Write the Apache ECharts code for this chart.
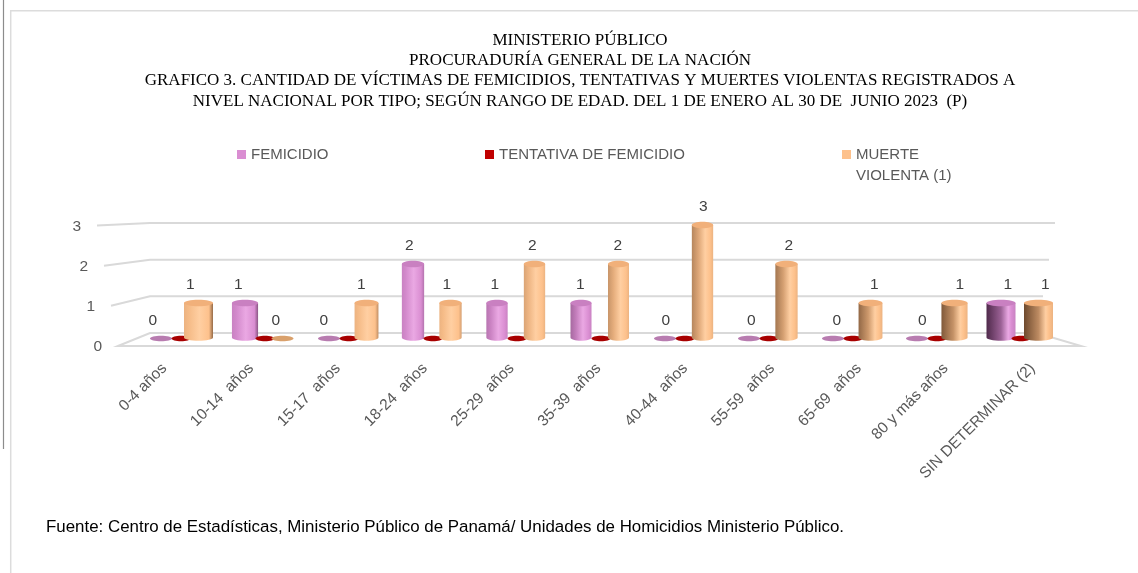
<!DOCTYPE html>
<html><head><meta charset="utf-8">
<script src="https://cdn.jsdelivr.net/npm/echarts@6/dist/echarts.min.js"></script>
<style>html,body{margin:0;padding:0;background:#fff}#c{width:1138px;height:573px}</style>
</head><body><div id="c"></div>
<script>
// ---- data ----
const categories = ['0-4 años','10-14  años','15-17  años','18-24  años','25-29  años','35-39  años','40-44  años','55-59  años','65-69  años','80 y más años','SIN DETERMINAR (2)'];
const femicidio = [0,1,0,2,1,1,0,0,0,0,1];
const tentativa = [0,0,0,0,0,0,0,0,0,0,0];
const muerteViolenta = [1,0,1,1,2,2,3,2,1,1,1];
const yTicks = [0,1,2,3];
const seriesNames = ['FEMICIDIO','TENTATIVA DE FEMICIDIO','MUERTE VIOLENTA (1)'];
const titleLines = ['MINISTERIO PÚBLICO','PROCURADURÍA GENERAL DE LA NACIÓN','GRAFICO 3. CANTIDAD DE VÍCTIMAS DE FEMICIDIOS, TENTATIVAS Y MUERTES VIOLENTAS REGISTRADOS A','NIVEL NACIONAL POR TIPO; SEGÚN RANGO DE EDAD. DEL 1 DE ENERO AL 30 DE  JUNIO 2023  (P)'];
const sourceText = 'Fuente: Centro de Estadísticas, Ministerio Público de Panamá/ Unidades de Homicidios Ministerio Público.';

// ---- styles ----
const SANS = '"Liberation Sans", Arial, sans-serif';
const SERIF = '"Liberation Serif", "Times New Roman", serif';
const palette = [
  {base:'#da8ed2', light:'#eaa8e3', dark:'#4f2a4b', top:'#c980c1', zero:'#b87cb0'},
  {base:'#c00000', light:'#d01010', dark:'#600000', top:'#a80000', zero:'#a80000'},
  {base:'#fdc18c', light:'#ffcfa2', dark:'#6e4a2e', top:'#f1b07a', zero:'#d9a06b'}
];
function hex2rgb(h){h=h.replace('#','');return [parseInt(h.substr(0,2),16),parseInt(h.substr(2,2),16),parseInt(h.substr(4,2),16)];}
function mix(a,b,t){const A=hex2rgb(a),B=hex2rgb(b);return 'rgb('+A.map((x,i)=>Math.round(x+(B[i]-x)*t)).join(',')+')';}
function clamp(x){return Math.max(0,Math.min(1,x));}
function ellipsePts(cx,cy,rx,ry){const p=[];for(let i=0;i<32;i++){const a=2*Math.PI*i/32;p.push([cx+rx*Math.cos(a),cy+ry*Math.sin(a)]);}return p;}

function cylRender(si){
  return function(params, api){
    const k = api.value(0), v = api.value(1);
    const p0 = api.coord([k,0]), p1 = api.coord([k,v]);
    const u = api.size([1,0])[0]/84;
    const off = [-20,0,17.5][si]*u;
    const t = (k-5)/5;
    const w = (21+8*t*t)*u;
    const cx = p0[0]+off;
    const ry = 3.3;
    const c = palette[si];
    const ch = [];
    let topY;
    if (v === 0) {
      const ew = (si===1?19:22)*u;
      topY = p0[1]-3.5;
      ch.push({type:'polygon', shape:{points:ellipsePts(cx,topY,ew/2,2.7)}, style:{fill:c.zero}});
    } else {
      const yb = p0[1]-4.5, yt = p1[1];
      topY = yt;
      const pts=[[cx-w/2,yt]];
      for(let i=0;i<=16;i++){const a=Math.PI-Math.PI*i/16;pts.push([cx+w/2*Math.cos(a), yb+ry*Math.sin(a)]);}
      pts.push([cx+w/2,yt]);
      const dl = 0.12+0.88*clamp((k-3)/7);
      const dr = 0.12+0.6*clamp((4-k)/4);
      const grad = new echarts.graphic.LinearGradient(0,0,1,0,[
        {offset:0,color:mix(c.base,c.dark,dl)},
        {offset:0.12+0.38*dl,color:mix(c.base,c.dark,dl*0.45)},
        {offset:0.5+0.25*dl,color:c.light},
        {offset:0.86,color:c.base},
        {offset:1,color:mix(c.base,c.dark,dr)}
      ]);
      ch.push({type:'polygon', shape:{points:pts}, style:{fill:grad}});
      ch.push({type:'polygon', shape:{points:ellipsePts(cx,yt,w/2,ry)}, style:{fill:c.top}});
    }
    if (si !== 1) {
      ch.push({type:'text', style:{text:String(v), x:cx+(k-5.5)*1.5, y:topY-18, align:'center', verticalAlign:'middle', fontSize:15.5, fontFamily:SANS, fill:'#404040'}});
    }
    return {type:'group', children:ch};
  };
}

function wallRender(params, api){
  const v = api.value(1);
  const bl = api.coord([0,v]);
  const br0 = api.coord([1,v]);
  const br = [br0[0]+6*v, br0[1]];
  const fl = [bl[0]-32-7*v, bl[1]+13-3.5*v];
  const ls = {fill:'none', stroke:'#d9d9d9', lineWidth:2};
  const ch = [];
  if (v === 0) ch.push({type:'polygon', shape:{points:[fl,bl,br,[br[0]+44,br[1]+13]]}, style:ls});
  else ch.push({type:'polyline', shape:{points:[fl,bl,br]}, style:ls});
  ch.push({type:'text', style:{text:String(v), x:fl[0]-16, y:fl[1]+1, align:'right', verticalAlign:'middle', fontSize:15.5, fontFamily:SANS, fill:'#595959'}});
  return {type:'group', children:ch};
}

const seriesData = [femicidio, tentativa, muerteViolenta];
const chart = echarts.init(document.getElementById('c'), null, {renderer:'canvas'});
const hidden = {show:false};
const legendText = {fontSize:15, fontFamily:SANS, color:'#595959', lineHeight:17};
chart.setOption({
  backgroundColor:'#fff',
  animation:false,
  grid:[
    {left:139, right:75, top:225, height:117, outerBoundsMode:'none'},
    {left:150, right:101, top:223, height:110, outerBoundsMode:'none'},
    {left:121, right:62, top:340, height:12, outerBoundsMode:'none'}
  ],
  xAxis:[
    {type:'category', gridIndex:0, data:categories, axisLine:hidden, axisTick:hidden, axisLabel:hidden, splitLine:hidden},
    {type:'value', gridIndex:1, min:0, max:1, axisLine:hidden, axisTick:hidden, axisLabel:hidden, splitLine:hidden},
    {type:'category', gridIndex:2, data:categories, position:'bottom', axisLine:hidden, axisTick:hidden, splitLine:hidden,
     axisLabel:{show:true, rotate:45, interval:0, margin:14, fontSize:15.5, fontFamily:SANS, color:'#595959'}}
  ],
  yAxis:[
    {type:'value', gridIndex:0, min:0, max:3, interval:1, axisLine:hidden, axisTick:hidden, axisLabel:hidden, splitLine:hidden},
    {type:'value', gridIndex:1, min:0, max:3, interval:1, axisLine:hidden, axisTick:hidden, axisLabel:hidden, splitLine:hidden},
    {type:'value', gridIndex:2, min:0, max:1, axisLine:hidden, axisTick:hidden, axisLabel:hidden, splitLine:hidden}
  ],
  legend:[
    {data:[seriesNames[0]], left:237, top:146, padding:0, icon:'rect', itemWidth:9, itemHeight:9, selectedMode:false, textStyle:legendText},
    {data:[seriesNames[1]], left:485, top:146, padding:0, icon:'rect', itemWidth:9, itemHeight:9, selectedMode:false, textStyle:legendText},
    {data:[seriesNames[2]], left:842, top:144, padding:0, icon:'path://M0,0L9,0L9,9L0,9Z M0,31L9,31', itemWidth:9, itemHeight:31, selectedMode:false,
     formatter:function(){return 'MUERTE\nVIOLENTA (1)';},
     textStyle:{fontSize:15, fontFamily:SANS, color:'#595959', lineHeight:21.5}}
  ],
  graphic:[
    {type:'line', shape:{x1:3.5,y1:0,x2:3.5,y2:449}, style:{stroke:'#8c8c8c', lineWidth:1.2}, silent:true},
    {type:'line', shape:{x1:10,y1:10.7,x2:1138,y2:10.7}, style:{stroke:'#dcdcdc', lineWidth:1.5}, silent:true},
    {type:'line', shape:{x1:10.7,y1:10,x2:10.7,y2:573}, style:{stroke:'#dcdcdc', lineWidth:1.5}, silent:true},
    {type:'text', x:580, y:30, silent:true, style:{text:titleLines.join('\n'), align:'center', verticalAlign:'top', fontSize:17, lineHeight:20.3, fontFamily:SERIF, fill:'#000'}},
    {type:'text', x:46, y:527, silent:true, style:{text:sourceText, align:'left', verticalAlign:'middle', fontSize:16.9, fontFamily:SANS, fill:'#000'}}
  ],
  series:[
    {type:'custom', name:'wall', xAxisIndex:1, yAxisIndex:1, z:1, silent:true, renderItem:wallRender,
     data:yTicks.map(v=>[0,v])},
    ...seriesData.map((arr,si)=>({
      type:'custom', name:seriesNames[si], xAxisIndex:0, yAxisIndex:0, z:2, silent:true,
      itemStyle:{color:palette[si].base},
      renderItem:cylRender(si),
      data:arr.map((v,k)=>[k,v])
    }))
  ]
});
</script></body></html>
